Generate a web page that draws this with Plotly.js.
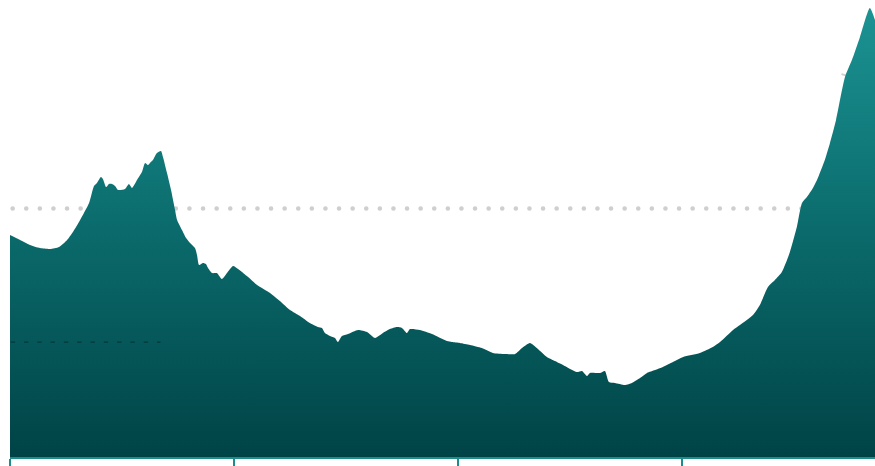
<!DOCTYPE html>
<html>
<head>
<meta charset="utf-8">
<script src="https://cdn.plot.ly/plotly-3.0.1.min.js"></script>
<style>
  html, body { margin: 0; padding: 0; background: #ffffff; }
  #chart { width: 875px; height: 466px; }
  .shapelayer path { stroke-linecap: round; }
</style>
</head>
<body>
<div id="chart"></div>
<script>
// Time (decimal years)
const years = [
  2019.000, 2019.045, 2019.089, 2019.134, 2019.179, 2019.219, 2019.255, 2019.281, 2019.313, 2019.353,
  2019.375, 2019.388, 2019.406, 2019.415, 2019.429, 2019.442, 2019.455, 2019.469, 2019.482, 2019.513,
  2019.531, 2019.545, 2019.567, 2019.589, 2019.603, 2019.616, 2019.625, 2019.638, 2019.656, 2019.674,
  2019.683, 2019.701, 2019.719, 2019.737, 2019.746, 2019.768, 2019.786, 2019.804, 2019.826, 2019.835,
  2019.844, 2019.862, 2019.875, 2019.884, 2019.902, 2019.924, 2019.946, 2019.969, 2019.996, 2020.018,
  2020.058, 2020.103, 2020.161, 2020.205, 2020.250, 2020.295, 2020.339, 2020.375, 2020.393, 2020.406,
  2020.429, 2020.451, 2020.464, 2020.482, 2020.509, 2020.554, 2020.594, 2020.630, 2020.665, 2020.696,
  2020.728, 2020.750, 2020.772, 2020.786, 2020.830, 2020.884, 2020.951, 2020.973, 2021.009, 2021.054,
  2021.107, 2021.156, 2021.210, 2021.255, 2021.286, 2021.321, 2021.357, 2021.397, 2021.433, 2021.469,
  2021.531, 2021.554, 2021.567, 2021.576, 2021.589, 2021.634, 2021.656, 2021.674, 2021.701, 2021.746,
  2021.777, 2021.813, 2021.844, 2021.880, 2021.915, 2021.960, 2022.005, 2022.080, 2022.138, 2022.170,
  2022.228, 2022.259, 2022.317, 2022.348, 2022.384, 2022.415, 2022.446, 2022.482, 2022.513, 2022.536,
  2022.558, 2022.585, 2022.603, 2022.638, 2022.661, 2022.688, 2022.728, 2022.759, 2022.795, 2022.839,
  2022.862
];
// Values (same order)
const values = [
  18.01, 17.64, 17.27, 17.04, 16.97, 17.12, 17.64, 18.24, 19.14, 20.41,
  21.69, 21.91, 22.36, 22.21, 21.61, 21.84, 21.84, 21.69, 21.39, 21.46,
  21.84, 21.54, 22.13, 22.73, 23.41, 23.26, 23.41, 23.63, 24.16, 24.31,
  23.86, 22.66, 21.39, 19.89, 19.14, 18.39, 17.79, 17.42, 17.04, 16.52,
  15.77, 15.92, 15.84, 15.54, 15.17, 15.17, 14.72, 15.17, 15.69, 15.47,
  14.94, 14.27, 13.67, 13.07, 12.40, 11.95, 11.42, 11.12, 11.05, 10.67,
  10.45, 10.30, 10.00, 10.45, 10.60, 10.90, 10.75, 10.30, 10.67, 10.97,
  11.12, 11.05, 10.67, 10.97, 10.90, 10.60, 10.07, 10.00, 9.93, 9.78,
  9.55, 9.18, 9.10, 9.10, 9.55, 9.93, 9.48, 8.88, 8.58, 8.28,
  7.75, 7.83, 7.60, 7.45, 7.68, 7.68, 7.83, 7.00, 6.93, 6.78,
  6.93, 7.30, 7.68, 7.90, 8.13, 8.50, 8.88, 9.18, 9.63, 10.00,
  10.90, 11.27, 12.02, 12.77, 14.12, 14.64, 15.24, 16.74, 18.61, 20.41,
  20.86, 21.54, 22.13, 23.63, 24.91, 26.63, 29.85, 31.12, 32.85, 35.02,
  34.12
];
const tickYears = [2019, 2020, 2021, 2022];
const xRange = [2019, 2022.862];
const yRange = [1.39, 35.62];

const teal = '#1f8c8c';

const trace = {
  x: years,
  y: values,
  type: 'scatter',
  mode: 'lines',
  fill: 'tozeroy',
  line: { width: 0, shape: 'spline', smoothing: 0.6, color: '#0d6f6f' },
  fillgradient: {
    type: 'vertical',
    start: yRange[0],
    stop: yRange[1],
    colorscale: [[0, '#004346'], [0.5, '#0b6b6c'], [1, '#1c9494']]
  },
  hoverinfo: 'skip',
  showlegend: false
};

const layout = {
  width: 875,
  height: 466,
  margin: { l: 10, r: 0, t: 0, b: 9, pad: 0 },
  paper_bgcolor: '#ffffff',
  plot_bgcolor: '#ffffff',
  showlegend: false,
  xaxis: {
    range: xRange,
    tickvals: tickYears,
    showticklabels: false,
    ticks: 'outside',
    ticklen: 8,
    tickwidth: 2,
    tickcolor: teal,
    showline: true,
    linecolor: teal,
    linewidth: 2,
    showgrid: false,
    zeroline: false,
    fixedrange: true
  },
  yaxis: {
    range: yRange,
    showticklabels: false,
    showgrid: false,
    zeroline: false,
    showline: false,
    fixedrange: true
  },
  shapes: [
    { type: 'line', xref: 'paper', yref: 'y', x0: 0.003, x1: 1, y0: 20, y1: 20,
      layer: 'below', line: { color: '#cfcfcf', width: 4.5, dash: '0.1px,13.5px' } },
    { type: 'line', xref: 'x', yref: 'y', x0: 2019.005, x1: 2019.67, y0: 10, y1: 10,
      layer: 'above', line: { color: 'rgba(0,30,30,0.55)', width: 1.2, dash: '3.5px,9.8px' } },
    { type: 'line', xref: 'x', yref: 'y', x0: 2022.716, x1: 2022.738, y0: 30.05, y1: 29.95,
      layer: 'below', line: { color: '#d0d0d0', width: 2 } }
  ]
};

Plotly.newPlot('chart', [trace], layout, { staticPlot: true, displayModeBar: false });
</script>
</body>
</html>
